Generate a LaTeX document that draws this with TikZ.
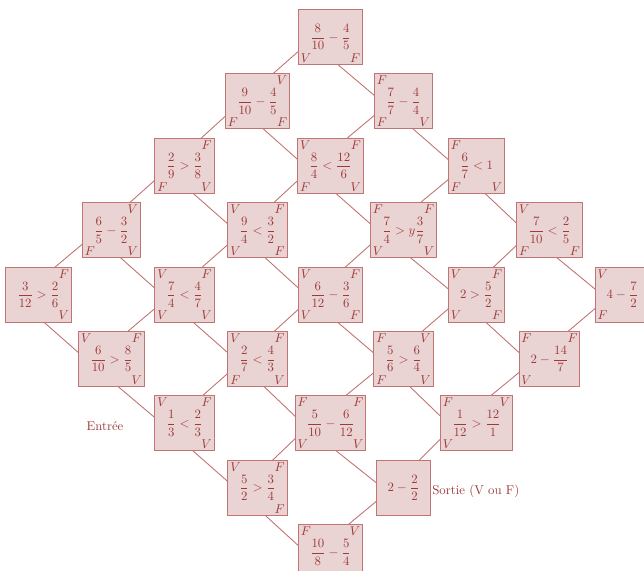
\documentclass[tikz,border=0pt]{standalone}
\usepackage{amsmath}
\usetikzlibrary{backgrounds}
\definecolor{bfill}{RGB}{233,211,211}
\definecolor{bdraw}{RGB}{194,116,116}
\definecolor{btext}{RGB}{158,58,58}
\tikzset{
  box/.style={draw=bdraw, fill=bfill, line width=0.8pt, text=btext,
    minimum height=43pt, inner xsep=9pt, inner ysep=2pt},
  cl/.style={text=btext, inner sep=2pt},
  conn/.style={draw=bdraw, line width=0.7pt},
  lbl/.style={text=btext, inner sep=0pt}
}
\newcommand{\bx}[3]{\node[box] (n#1#2) at ({38.5+73*(4-#1+#2)},{37+64.4*(#1+#2)}) {$#3$};}
\newcommand{\cn}[3]{\foreach \a/\t [count=\c] in {#3} {\node[cl,anchor=\a] (n#1#2c\c) at (n#1#2.\a) {$\t$};}}
\begin{document}
\begin{tikzpicture}[x=0.78125pt,y=-0.78125pt]
\useasboundingbox (0,0) rectangle (644,571);
% boxes
\bx{0}{0}{\dfrac{8}{10}-\dfrac{4}{5}}
\bx{1}{0}{\dfrac{9}{10}-\dfrac{4}{5}}
\bx{0}{1}{\dfrac{7}{7}-\dfrac{4}{4}}
\bx{2}{0}{\dfrac{2}{9}>\dfrac{3}{8}}
\bx{1}{1}{\dfrac{8}{4}<\dfrac{12}{6}}
\bx{0}{2}{\dfrac{6}{7}<1}
\bx{3}{0}{\dfrac{6}{5}-\dfrac{3}{2}}
\bx{2}{1}{\dfrac{9}{4}<\dfrac{3}{2}}
\bx{1}{2}{\dfrac{7}{4}>y\dfrac{3}{7}}
\bx{0}{3}{\dfrac{7}{10}<\dfrac{2}{5}}
\bx{4}{0}{\dfrac{3}{12}>\dfrac{2}{6}}
\bx{3}{1}{\dfrac{7}{4}<\dfrac{4}{7}}
\bx{2}{2}{\dfrac{6}{12}-\dfrac{3}{6}}
\bx{1}{3}{2>\dfrac{5}{2}}
\bx{0}{4}{4-\dfrac{7}{2}}
\bx{4}{1}{\dfrac{6}{10}>\dfrac{8}{5}}
\bx{3}{2}{\dfrac{2}{7}<\dfrac{4}{3}}
\bx{2}{3}{\dfrac{5}{6}>\dfrac{6}{4}}
\bx{1}{4}{2-\dfrac{14}{7}}
\bx{4}{2}{\dfrac{1}{3}<\dfrac{2}{3}}
\bx{3}{3}{\dfrac{5}{10}-\dfrac{6}{12}}
\bx{2}{4}{\dfrac{1}{12}>\dfrac{12}{1}}
\bx{4}{3}{\dfrac{5}{2}>\dfrac{3}{4}}
\bx{3}{4}{2-\dfrac{2}{2}}
\bx{4}{4}{\dfrac{10}{8}-\dfrac{5}{4}}
% corner labels
\cn{0}{0}{south west/V, south east/F}
\cn{1}{0}{north east/V, south west/F, south east/F}
\cn{0}{1}{north west/F, south west/F, south east/V}
\cn{2}{0}{north east/F, south west/F, south east/V}
\cn{1}{1}{north west/V, north east/F, south west/F, south east/V}
\cn{0}{2}{north west/F, south west/F, south east/V}
\cn{3}{0}{north east/V, south west/F, south east/V}
\cn{2}{1}{north west/V, north east/F, south west/V, south east/F}
\cn{1}{2}{north west/F, north east/F, south west/V, south east/V}
\cn{0}{3}{north west/V, south west/F, south east/F}
\cn{4}{0}{north east/F, south east/V}
\cn{3}{1}{north west/V, north east/F, south west/V, south east/V}
\cn{2}{2}{north west/V, north east/F, south west/V, south east/F}
\cn{1}{3}{north west/V, north east/F, south west/V, south east/F}
\cn{0}{4}{north west/V, south west/F}
\cn{4}{1}{north west/V, north east/F, south east/V}
\cn{3}{2}{north west/V, north east/F, south west/F, south east/V}
\cn{2}{3}{north west/F, north east/V, south west/F, south east/V}
\cn{1}{4}{north west/F, north east/F, south west/V}
\cn{4}{2}{north west/V, north east/F, south east/V}
\cn{3}{3}{north west/F, north east/F, south west/V, south east/V}
\cn{2}{4}{north west/F, north east/V, south west/V}
\cn{4}{3}{north west/V, north east/F, south east/F}
\cn{4}{4}{north west/F, north east/V}
% connectors (between text anchors, behind the boxes)
\begin{scope}[on background layer]
\foreach \i in {0,...,4}{\foreach \j [evaluate=\j as \jj using int(\j+1)] in {0,...,3}{\draw[conn] (n\i\j.text) -- (n\i\jj.text);}}
\foreach \j in {0,...,4}{\foreach \i [evaluate=\i as \ii using int(\i+1)] in {0,...,3}{\draw[conn] (n\i\j.text) -- (n\ii\j.text);}}
\end{scope}
% texts
\node[lbl] (entree) at (105,426) {Entrée};
\node[lbl, anchor=west] (sortie) at (432,491) {Sortie (V ou F)};
\end{tikzpicture}
\end{document}
